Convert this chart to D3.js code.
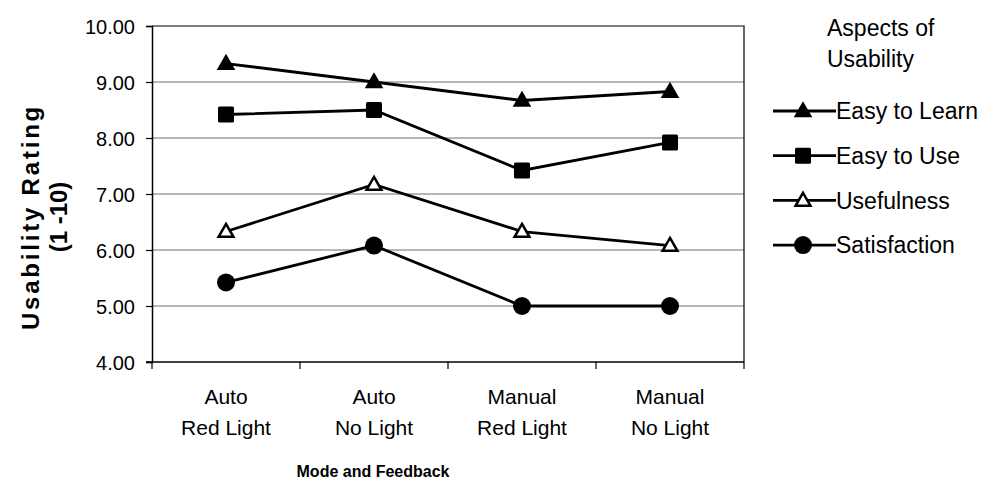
<!DOCTYPE html>
<html>
<head>
<meta charset="utf-8">
<script src="https://cdnjs.cloudflare.com/ajax/libs/d3/7.8.5/d3.min.js"></script>
<style>
  body { margin: 0; background: #fff; }
  text { font-family: "Liberation Sans", Arial, sans-serif; fill: #000; }
</style>
</head>
<body>
<svg width="982" height="481"></svg>
<script>
var categories = [["Auto", "Red Light"], ["Auto", "No Light"], ["Manual", "Red Light"], ["Manual", "No Light"]];
var seriesNames = ["Easy to Learn", "Easy to Use", "Usefulness", "Satisfaction"];
var easyToLearn = [9.33, 9.00, 8.67, 8.83];
var easyToUse = [8.42, 8.50, 7.42, 7.92];
var usefulness = [6.33, 7.17, 6.33, 6.08];
var satisfaction = [5.42, 6.08, 5.00, 5.00];
var yTicks = [4, 5, 6, 7, 8, 9, 10];

var series = [
  { name: seriesNames[0], values: easyToLearn, marker: "tri" },
  { name: seriesNames[1], values: easyToUse, marker: "square" },
  { name: seriesNames[2], values: usefulness, marker: "opentri" },
  { name: seriesNames[3], values: satisfaction, marker: "circle" }
];

var svg = d3.select("svg");
var pLeft = 152, pRight = 744, pTop = 26, pBottom = 362;

var x = d3.scaleBand()
    .domain(d3.range(categories.length))
    .range([pLeft, pRight]);

var y = d3.scaleLinear()
    .domain([4, 10])
    .range([pBottom, pTop]);

// gridlines
svg.append("g")
  .selectAll("line")
  .data(yTicks.slice(1, -1))
  .enter().append("line")
    .attr("x1", pLeft).attr("x2", pRight)
    .attr("y1", function(d) { return y(d); })
    .attr("y2", function(d) { return y(d); })
    .attr("stroke", "#6e6e6e")
    .attr("stroke-width", 1);

// plot border top and right
svg.append("path")
    .attr("d", "M" + pLeft + "," + pTop + "H" + pRight + "V" + pBottom)
    .attr("fill", "none")
    .attr("stroke", "#000")
    .attr("stroke-width", 1.2);

// y axis
var yAxis = svg.append("g")
    .attr("transform", "translate(" + pLeft + ",0)")
    .call(d3.axisLeft(y).tickValues(yTicks).tickFormat(d3.format(".2f")).tickSize(6).tickPadding(11));
yAxis.select(".domain").attr("stroke-width", 1.5);
yAxis.selectAll("line").attr("stroke-width", 1.2);
yAxis.selectAll("text").style("font-size", "20px").attr("dy", "0.36em");

// x axis
var xAxis = svg.append("g")
    .attr("transform", "translate(0," + pBottom + ")");
xAxis.append("line")
    .attr("x1", pLeft - 6).attr("x2", pRight)
    .attr("y1", 0).attr("y2", 0)
    .attr("stroke", "#000").attr("stroke-width", 1.5);
xAxis.selectAll(".tk")
  .data(d3.range(categories.length + 1))
  .enter().append("line")
    .attr("class", "tk")
    .attr("x1", function(d) { return pLeft + d * x.step(); })
    .attr("x2", function(d) { return pLeft + d * x.step(); })
    .attr("y1", 0).attr("y2", 7)
    .attr("stroke", "#000").attr("stroke-width", 1.2);

var xl = xAxis.selectAll(".xl")
  .data(categories)
  .enter().append("text")
    .attr("class", "xl")
    .attr("text-anchor", "middle")
    .style("font-size", "21px");
xl.append("tspan").attr("x", function(d, i) { return x(i) + x.bandwidth() / 2; })
    .attr("y", 42).text(function(d) { return d[0]; });
xl.append("tspan").attr("x", function(d, i) { return x(i) + x.bandwidth() / 2; })
    .attr("y", 73).text(function(d) { return d[1]; });

// axis titles
svg.append("text")
    .attr("x", 373)
    .attr("y", 477)
    .attr("text-anchor", "middle")
    .style("font-size", "16px")
    .style("font-weight", "bold")
    .text("Mode and Feedback");

var yt = svg.append("text")
    .attr("transform", "translate(0,217) rotate(-90)")
    .attr("text-anchor", "middle")
    .style("font-size", "24px")
    .style("font-weight", "bold");
yt.append("tspan").attr("x", 0).attr("y", 39).style("letter-spacing", "2.8px").text("Usability Rating");
yt.append("tspan").attr("x", 0).attr("y", 67).text("(1 -10)");

function drawMarker(g, type) {
  if (type === "tri") {
    g.append("path").attr("d", d3.symbol().type(d3.symbolTriangle).size(150)())
      .attr("transform", "translate(0,1)")
      .attr("fill", "#000");
  } else if (type === "opentri") {
    g.append("path").attr("d", d3.symbol().type(d3.symbolTriangle).size(95)())
      .attr("transform", "translate(0,1)")
      .attr("fill", "#fff").attr("stroke", "#000").attr("stroke-width", 2.5);
  } else if (type === "square") {
    g.append("rect").attr("x", -8).attr("y", -8).attr("width", 16).attr("height", 16)
      .attr("rx", 1.5).attr("fill", "#000");
  } else {
    g.append("circle").attr("r", 9).attr("fill", "#000");
  }
}

var line = d3.line()
    .x(function(d, i) { return x(i) + x.bandwidth() / 2; })
    .y(function(d) { return y(d); });

series.forEach(function(s) {
  svg.append("path")
      .attr("d", line(s.values))
      .attr("fill", "none")
      .attr("stroke", "#000")
      .attr("stroke-width", 2.8);
  s.values.forEach(function(v, i) {
    var g = svg.append("g")
        .attr("transform", "translate(" + (x(i) + x.bandwidth() / 2) + "," + y(v) + ")");
    drawMarker(g, s.marker);
  });
});

// legend
var legend = svg.append("g");
legend.append("text").attr("x", 827).attr("y", 36).style("font-size", "23px").text("Aspects of");
legend.append("text").attr("x", 827).attr("y", 67).style("font-size", "23px").text("Usability");

series.forEach(function(s, i) {
  var ly = 111 + i * 44.7;
  legend.append("line")
      .attr("x1", 773).attr("x2", 836)
      .attr("y1", ly).attr("y2", ly)
      .attr("stroke", "#000").attr("stroke-width", 2.8);
  var g = legend.append("g").attr("transform", "translate(803," + ly + ")");
  drawMarker(g, s.marker);
  legend.append("text")
      .attr("x", 836).attr("y", ly)
      .attr("dy", "0.36em")
      .style("font-size", "23px")
      .text(s.name);
});
</script>
</body>
</html>
